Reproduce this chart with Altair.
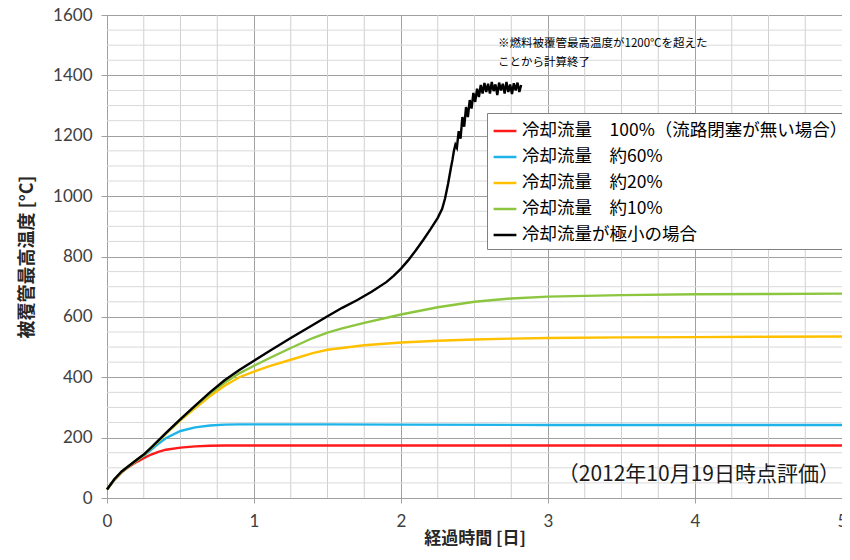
import altair as alt
import pandas as pd

SERIES = [
    "冷却流量　100%（流路閉塞が無い場合）",
    "冷却流量　約60%",
    "冷却流量　約20%",
    "冷却流量　約10%",
    "冷却流量が極小の場合",
]
COLORS = ["#ff1a1a", "#1eb4ea", "#ffc000", "#8cc63f", "#000000"]

red_t = [0, 0.05, 0.1, 0.15, 0.2, 0.25, 0.3, 0.35, 0.4, 0.5, 0.6, 0.7, 0.8, 1.0, 1.5, 2.0, 3.0, 4.0, 5.0]
red_v = [28, 60, 85, 104, 119, 132, 144, 153, 160, 167, 171, 173, 174, 174, 174, 174, 174, 174, 174]

blue_t = [0, 0.05, 0.1, 0.15, 0.2, 0.25, 0.3, 0.35, 0.4, 0.5, 0.6, 0.7, 0.8, 0.9, 1.0, 1.5, 2.0, 3.0, 4.0, 5.0]
blue_v = [28, 61, 87, 106, 123, 140, 160, 180, 198, 222, 234, 240, 243, 244, 244, 244, 243, 242, 242, 242]

yellow_t = [0, 0.05, 0.1, 0.15, 0.2, 0.25, 0.3, 0.4, 0.5, 0.6, 0.7, 0.8, 0.9, 1.0, 1.1, 1.25,
            1.4, 1.5, 1.75, 2.0, 2.25, 2.5, 2.75, 3.0, 3.5, 4.0, 4.5, 5.0]
yellow_v = [28, 61, 87, 106, 124, 142, 165, 212, 257, 298, 337, 372, 400, 419, 436, 458,
            480, 491, 506, 515, 521, 525, 528, 530, 532, 533, 534, 535]

green_t = [0, 0.05, 0.1, 0.15, 0.2, 0.25, 0.3, 0.4, 0.5, 0.6, 0.7, 0.8, 0.9, 1.0, 1.1, 1.25,
           1.4, 1.5, 1.6, 1.75, 2.0, 2.25, 2.5, 2.75, 3.0, 3.5, 4.0, 4.5, 5.0]
green_v = [28, 61, 87, 106, 125, 143, 166, 214, 260, 304, 345, 382, 413, 438, 462, 497,
           530, 548, 562, 580, 608, 632, 650, 661, 667, 672, 675, 676, 677]

black_t = [0, 0.05, 0.1, 0.15, 0.2, 0.25, 0.3, 0.4, 0.5, 0.6, 0.7, 0.8, 0.9, 1.0, 1.1, 1.25,
           1.4, 1.5, 1.6, 1.7, 1.8, 1.9, 1.95, 2.0, 2.05, 2.1, 2.15, 2.2, 2.25, 2.28, 2.3,
           2.32, 2.34, 2.35, 2.36, 2.37,
           2.3800, 2.3925, 2.4050, 2.4175, 2.4300, 2.4425, 2.4550, 2.4675, 2.4800, 2.4925,
           2.5050, 2.5175, 2.5300, 2.5425, 2.5550, 2.5675, 2.5800, 2.5925, 2.6050, 2.6175,
           2.6300, 2.6425, 2.6550, 2.6675, 2.6800, 2.6925, 2.7050, 2.7175, 2.7300, 2.7425,
           2.7550, 2.7675, 2.7800, 2.7925, 2.8050, 2.8175]
black_v = [28, 62, 88, 107, 126, 144, 167, 215, 261, 306, 350, 390, 424, 455, 485, 530,
           573, 602, 630, 655, 683, 715, 736, 760, 788, 820, 854, 890, 928, 958, 993,
           1040, 1095, 1120, 1150, 1170,
           1160, 1215, 1190, 1262, 1230, 1295, 1262, 1318, 1290, 1342,
           1312, 1356, 1328, 1368, 1340, 1375, 1345, 1372, 1340, 1378,
           1348, 1370, 1335, 1376, 1350, 1372, 1340, 1378, 1345, 1370,
           1338, 1374, 1350, 1376, 1345, 1368]

X_TICKS = [0, 1, 2, 3, 4, 5]
Y_TICKS = [0, 200, 400, 600, 800, 1000, 1200, 1400, 1600]
MINOR_X = [0.25, 0.5, 0.75, 1.25, 1.5, 1.75, 2.25, 2.5, 2.75, 3.25, 3.5, 3.75, 4.25, 4.5, 4.75]
MINOR_Y = [50, 100, 150, 250, 300, 350, 450, 500, 550, 650, 700, 750, 850, 900, 950,
           1050, 1100, 1150, 1250, 1300, 1350, 1450, 1500, 1550]

NOTE_1 = "※燃料被覆管最高温度が1200℃を超えた"
NOTE_2 = "ことから計算終了"
STAMP = "（2012年10月19日時点評価）"

rows = []
for name, ts, vs in zip(SERIES, [red_t, blue_t, yellow_t, green_t, black_t],
                        [red_v, blue_v, yellow_v, green_v, black_v]):
    for i, (t, v) in enumerate(zip(ts, vs)):
        rows.append({"series": name, "t": t, "v": v, "i": i})
df = pd.DataFrame(rows)

xs = alt.Scale(domain=[0, 5], nice=False)
ys = alt.Scale(domain=[0, 1600], nice=False)

AX = alt.Axis(
    values=X_TICKS, title="経過時間 [日]", format="d",
    labelFont="Lato", labelFontSize=17, labelColor="#404040", labelPadding=10,
    labelFlush=False,
    titleFont="Noto Sans CJK JP", titleFontSize=17, titleFontWeight="bold",
    titleColor="#262626", titlePadding=1,
    grid=True, gridColor="#a0a0a0", domainColor="#a0a0a0", tickColor="#a0a0a0", tickSize=5)
AY = alt.Axis(
    values=Y_TICKS, title="被覆管最高温度 [°C]", format="d",
    labelFont="Lato", labelFontSize=17, labelColor="#404040", labelPadding=9,
    titleFont="Noto Sans CJK JP", titleFontSize=18, titleFontWeight="bold",
    titleColor="#262626", titlePadding=16,
    grid=True, gridColor="#a0a0a0", domainColor="#a0a0a0", tickColor="#a0a0a0", tickSize=6)

minor_x = alt.Chart(pd.DataFrame({"gx": MINOR_X})).mark_rule(color="#d0d0d0", strokeWidth=1).encode(
    x=alt.X("gx:Q", scale=xs, axis=AX)
)
minor_y = alt.Chart(pd.DataFrame({"gy": MINOR_Y})).mark_rule(color="#d9d9d9", strokeWidth=1).encode(
    y=alt.Y("gy:Q", scale=ys, axis=AY)
)

lines = alt.Chart(df).mark_line(strokeWidth=2.4).encode(
    x=alt.X("t:Q", scale=xs, axis=AX),
    y=alt.Y("v:Q", scale=ys, axis=AY),
    color=alt.Color("series:N", scale=alt.Scale(domain=SERIES, range=COLORS), legend=alt.Legend(
        title=None, orient="none", legendX=380, legendY=98, fillColor="white",
        strokeColor="#808080", padding=5, symbolType="stroke", symbolSize=520,
        symbolStrokeWidth=2.5, labelFont="Noto Sans CJK JP", labelFontSize=17.5,
        labelColor="#000000", rowPadding=4, labelOffset=4, labelLimit=500)),
    order=alt.Order("i:Q"),
)

note1 = alt.Chart(pd.DataFrame({"s": [NOTE_1]})).mark_text(
    align="left", baseline="middle", font="Noto Sans CJK JP", fontSize=11.5, color="#000000"
).encode(x=alt.value(391), y=alt.value(29), text="s:N")
note2 = alt.Chart(pd.DataFrame({"s": [NOTE_2]})).mark_text(
    align="left", baseline="middle", font="Noto Sans CJK JP", fontSize=11.5, color="#000000"
).encode(x=alt.value(391), y=alt.value(48), text="s:N")
stamp = alt.Chart(pd.DataFrame({"s": [STAMP]})).mark_text(
    align="right", baseline="middle", font="Noto Sans CJK JP", fontSize=21, color="#1a1a1a"
).encode(x=alt.value(733), y=alt.value(460), text="s:N")

chart = alt.layer(minor_x, minor_y, lines, note1, note2, stamp).properties(
    width=735, height=483,
    padding={"left": 99, "top": 7, "right": 0, "bottom": 50},
    autosize=alt.AutoSizeParams(type="none"),
).configure_view(stroke=None)

chart.save("out.html", embed_options={"renderer": "svg", "actions": False})
